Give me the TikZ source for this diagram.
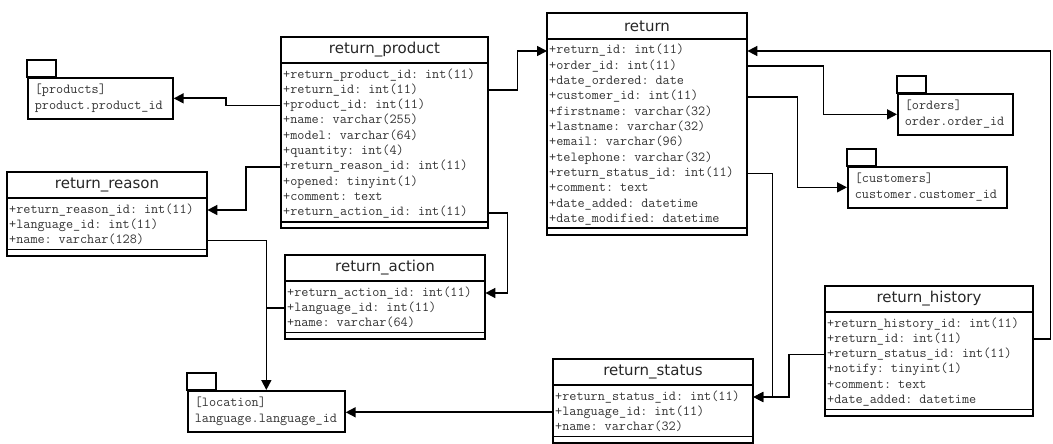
\documentclass[tikz,border=0pt]{standalone}
\usepackage{fontspec}
\newfontfamily\titlefont{DejaVu Sans}
\usetikzlibrary{arrows.meta,positioning}

\tikzset{
  tabline/.style={line width=1.7pt},
  tabtitle/.style={font=\titlefont\fontsize{15}{17}\selectfont, inner sep=0pt, text=black!85},
  tabrow/.style={font=\ttfamily\fontsize{13.8}{15}\selectfont, anchor=west, align=left,
    inner xsep=2pt, inner ysep=0pt, text height=8pt, text depth=2pt, text=black!80},
  pkgbody/.style={draw, line width=1.7pt, anchor=north west, align=left, inner xsep=7pt,
    minimum height=41pt, font=\ttfamily\fontsize{13.8}{16}\selectfont, text=black!80},
  fk/.style={line width=1.7pt, -{Triangle[length=10pt,width=10pt]}},
  fkjoin/.style={line width=1.7pt}
}

% name, x, y, width, number of rows, title, rows
\newcommand{\dbtable}[7]{%
  \pgfmathsetlengthmacro\rowwd{#4pt-4pt}%
  \draw[tabline] (#2,#3) rectangle ++(#4,{38+15.3*(#5-1)+15.5});
  \draw[tabline] (#2,#3+26) -- ++(#4,0);
  \draw[tabline] (#2,{#3+38+15.3*(#5-1)+9}) -- ++(#4,0);
  \node[tabtitle] (#1) at (#2+#4/2,#3+13) {#6};
  \foreach \fld [count=\rownum] in {#7}
    \node[tabrow, text width=\rowwd] (#1-\rownum) at (#2,{#3+38+15.3*(\rownum-1)}) {\fld};
}

% name, x, y, width, first line, second line
\newcommand{\dbpkg}[6]{%
  \pgfmathsetlengthmacro\pkgwd{#4pt-14pt}%
  \draw[tabline] (#2,#3) rectangle ++(29,-17);
  \node[pkgbody, text width=\pkgwd] (#1) at (#2,#3) {#5\\#6};
}

\begin{document}
\begin{tikzpicture}[x=1pt,y=-1pt]
  \useasboundingbox (0,0) rectangle (1053,444);

  \dbtable{rp}{281}{37}{207}{10}{return\_product}{%
    +return\_product\_id: int(11), +return\_id: int(11), +product\_id: int(11),
    +name: varchar(255), +model: varchar(64), +quantity: int(4),
    +return\_reason\_id: int(11), +opened: tinyint(1), +comment: text,
    +return\_action\_id: int(11)}
  \dbtable{ret}{547}{13}{200}{12}{return}{%
    +return\_id: int(11), +order\_id: int(11), +date\_ordered: date,
    +customer\_id: int(11), +firstname: varchar(32), +lastname: varchar(32),
    +email: varchar(96), +telephone: varchar(32), +return\_status\_id: int(11),
    +comment: text, +date\_added: datetime, +date\_modified: datetime}
  \dbtable{rr}{7}{172}{200}{3}{return\_reason}{%
    +return\_reason\_id: int(11), +language\_id: int(11), +name: varchar(128)}
  \dbtable{ra}{285}{255}{200}{3}{return\_action}{%
    +return\_action\_id: int(11), +language\_id: int(11), +name: varchar(64)}
  \dbtable{rh}{825}{286}{208}{6}{return\_history}{%
    +return\_history\_id: int(11), +return\_id: int(11), +return\_status\_id: int(11),
    +notify: tinyint(1), +comment: text, +date\_added: datetime}
  \dbtable{rs}{553}{359}{200}{3}{return\_status}{%
    +return\_status\_id: int(11), +language\_id: int(11), +name: varchar(32)}

  \dbpkg{prod}{27}{77}{145}{[products]}{product.product\_id}
  \dbpkg{ord}{897}{93}{115}{[orders]}{order.order\_id}
  \dbpkg{cus}{847}{166}{159}{[customers]}{customer.customer\_id}
  \dbpkg{loc}{187}{390}{157}{[location]}{language.language\_id}

  \draw[fk] (rp-3.west) -- ++(-55,0) |- (prod.east);
  \draw[fk] (rp-7.west) -- ++(-35,0) |- (rr-1.east);
  \draw[fk] (rp-2.east) -- ++(29,0) |- (ret-1.west);
  \draw[fk] (rp-10.east) -- ++(19,0) |- (ra-1.east);
  \draw[fk] (rr-3.east) -| (loc.north);
  \draw[fkjoin] (ra-2.west) -- (ra-2.west -| loc.north);
  \draw[fk] (ret-2.east) -- ++(76,0) |- (ord.west);
  \draw[fk] (ret-4.east) -- ++(50,0) |- (cus.west);
  \draw[fk] (ret-9.east) -- ++(25,0) |- (rs-1.east);
  \draw[fk] (rh-3.west) -- ++(-36,0) |- (rs-1.east);
  \draw[fk] (rh-2.east) -- ++(17,0) |- (ret-1.east);
  \draw[fk] (rs-2.west) -- (rs-2.west -| loc.east);
\end{tikzpicture}
\end{document}
